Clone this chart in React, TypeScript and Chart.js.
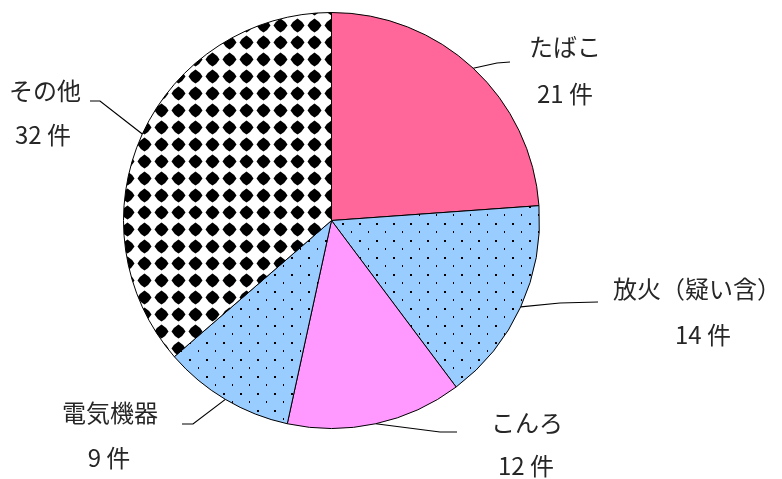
import React, { useEffect, useRef } from 'react';
import { Chart, registerables } from 'chart.js';

Chart.register(...registerables);

const categories = ['たばこ', '放火（疑い含）', 'こんろ', '電気機器', 'その他'];
const counts = [21, 14, 12, 9, 32];
const unitLabel = '件';

// label layout (name center, count center, leader path after the slice edge)
const labelLayout = [
  { name: [565, 47], count: [565, 94], path: [[497, 63], [510, 62]] },
  { name: [697, 289], count: [703, 335], path: [[560, 303], [598, 302]] },
  { name: [527, 423], count: [526, 466], path: [[440, 432], [457, 432]] },
  { name: [110, 413], count: [109, 458], path: [[193, 424], [182, 424]] },
  { name: [45, 91], count: [43, 135], path: [[100, 101], [90, 101]] },
];

function makeDotPattern(bg: string) {
  const c = document.createElement('canvas');
  c.width = 17;
  c.height = 17;
  const g = c.getContext('2d')!;
  g.fillStyle = bg;
  g.fillRect(0, 0, 17, 17);
  g.fillStyle = '#000';
  g.fillRect(2, 2, 2, 2);
  g.fillRect(11, 10, 1, 2);
  return g.createPattern(c, 'repeat');
}

function makeDiamondPattern() {
  const c = document.createElement('canvas');
  c.width = 17;
  c.height = 17;
  const g = c.getContext('2d')!;
  g.fillStyle = '#fff';
  g.fillRect(0, 0, 17, 17);
  g.fillStyle = '#000';
  const cx = 8.5, cy = 8.5, r = 7;
  g.beginPath();
  g.moveTo(cx, cy - r);
  g.quadraticCurveTo(cx + 4.5, cy - 4.5, cx + r, cy);
  g.quadraticCurveTo(cx + 4.5, cy + 4.5, cx, cy + r);
  g.quadraticCurveTo(cx - 4.5, cy + 4.5, cx - r, cy);
  g.quadraticCurveTo(cx - 4.5, cy - 4.5, cx, cy - r);
  g.closePath();
  g.fill();
  return g.createPattern(c, 'repeat');
}

const labelPlugin = {
  id: 'leaderLabels',
  afterDatasetsDraw(chart: any) {
    const ctx = chart.ctx;
    const meta = chart.getDatasetMeta(0);
    ctx.save();
    meta.data.forEach((arc: any, i: number) => {
      const p = arc.getProps(['x', 'y', 'startAngle', 'endAngle', 'outerRadius'], true);
      const mid = (p.startAngle + p.endAngle) / 2;
      const sx = p.x + Math.cos(mid) * p.outerRadius;
      const sy = p.y + Math.sin(mid) * p.outerRadius;
      const lay = labelLayout[i];
      ctx.strokeStyle = '#000';
      ctx.lineWidth = 1.2;
      ctx.beginPath();
      ctx.moveTo(sx, sy);
      lay.path.forEach((pt) => ctx.lineTo(pt[0], pt[1]));
      ctx.stroke();
      ctx.fillStyle = '#262626';
      ctx.textAlign = 'center';
      ctx.textBaseline = 'middle';
      ctx.font = '24px "Noto Sans CJK JP", sans-serif';
      ctx.fillText(categories[i], lay.name[0], lay.name[1]);
      ctx.fillText(`${counts[i]} ${unitLabel}`, lay.count[0], lay.count[1]);
    });
    ctx.restore();
  },
};

export default function App() {
  const ref = useRef<HTMLCanvasElement>(null);
  useEffect(() => {
    document.body.style.margin = '0';
    const colors = [
      '#FF6699',
      makeDotPattern('#99CCFF'),
      '#FF99FF',
      makeDotPattern('#99CCFF'),
      makeDiamondPattern(),
    ];
    const chart = new Chart(ref.current!, {
      type: 'pie',
      data: {
        labels: categories,
        datasets: [
          {
            data: counts,
            backgroundColor: colors as any,
            borderColor: '#000',
            borderWidth: 1,
            hoverOffset: 0,
          },
        ],
      },
      options: {
        animation: false,
        responsive: true,
        maintainAspectRatio: false,
        layout: { padding: { left: 123, right: 242, top: 12, bottom: 50 } },
        plugins: {
          legend: { display: false },
          tooltip: { enabled: false },
        },
      },
      plugins: [labelPlugin],
    });
    return () => chart.destroy();
  }, []);
  return (
    <div style={{ position: 'fixed', left: 0, top: 0, width: 782, height: 479, background: '#fff' }}>
      <canvas ref={ref} />
    </div>
  );
}
